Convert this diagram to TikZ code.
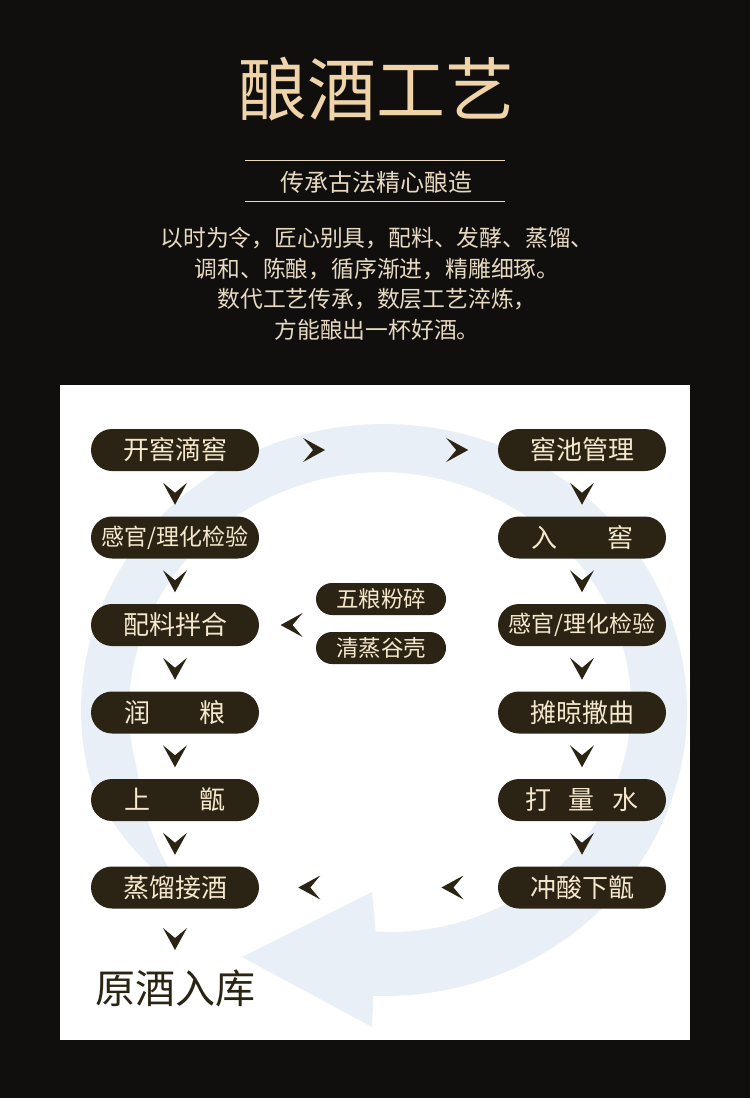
\documentclass[tikz,border=0pt]{standalone}
\usepackage{fontspec}
\setmainfont{Noto Sans CJK SC}
\usetikzlibrary{decorations.markings}
\definecolor{bgdark}{RGB}{16,15,14}
\definecolor{ringblue}{RGB}{233,239,246}
\definecolor{ink}{RGB}{43,36,20}
\definecolor{cream}{RGB}{246,232,205}
\definecolor{gold}{RGB}{238,212,168}
\definecolor{beige}{RGB}{232,218,194}

\begin{document}
\begin{tikzpicture}[x=1pt, y=-1pt,
        stepbox/.style={fill=ink, text=cream, rounded corners=21pt, minimum width=168pt, minimum height=42pt, inner sep=0pt, font=\fontsize{26}{26}\selectfont},
        grainbox/.style={fill=ink, text=cream, rounded corners=16pt, minimum width=130pt, minimum height=32pt, inner sep=0pt, font=\fontsize{22.5}{22.5}\selectfont},
        chev/.style={decoration={markings, mark=at position #1 with {\fill [ink] (-11, 12) -- (-1, 0) -- (-11, -12) -- (11, 0) -- cycle;}}, postaction={decorate}},
        declare function={tl(\s)=24*max(0, min(1, (165-\s)/30)); iw(\s)=48-tl(\s)+max(0, \s-270)*0.089;}]
        \pgfmathsetmacro{\xl}{175};
        \pgfmathsetmacro{\xr}{582};
        \pgfmathsetmacro{\dy}{87.5};
        \useasboundingbox (0, 0) rectangle (750, 1098);
        \fill [bgdark] (0, 0) rectangle (750, 1098);
        % header
        \node [text=gold, font=\fontsize{69}{69}\selectfont] (title) at (376, 89) {酿酒工艺};
        \draw [beige, line width=1pt] (245, 160) -- (505, 160);
        \draw [beige, line width=1pt] (245, 201) -- (505, 201);
        \node [text=beige, font=\fontsize{24}{24}\selectfont] (motto) at (376, 182) {传承古法精心酿造};
        \node [text=beige, align=center, font=\fontsize{22.8}{30.5}\selectfont] (intro) at (377, 284) {以时为令，匠心别具，配料、发酵、蒸馏、\\调和、陈酿，循序渐进，精雕细琢。\\数代工艺传承，数层工艺淬炼，\\方能酿出一杯好酒。};
        % panel and ring arrow
        \fill [white] (60, 385) rectangle (690, 1040);
        \fill [ringblue] plot [domain=135:452, samples=150] ({384+(303-tl(\x))*cos(\x)}, {710+(286-tl(\x))*sin(\x)})
            -- (372, 1027) -- (242, 957) -- (372, 892)
            -- plot [domain=452:135, samples=150] ({384+(303-iw(\x))*cos(\x)}, {710+(286-iw(\x))*sin(\x)}) -- cycle;
        % left column
        \node [stepbox] (kaijiao) at (\xl, 450) {开窖滴窖};
        \node [stepbox, font=\fontsize{23}{23}\selectfont] (jianyanl) at (\xl, 450+\dy) {感官/理化检验};
        \node [stepbox] (peiliao) at (\xl, 450+2*\dy) {配料拌合};
        \node [stepbox] (runliang) at (\xl, 450+3*\dy) {润\hspace{50pt}粮};
        \node [stepbox] (shangzeng) at (\xl, 450+4*\dy) {上\hspace{50pt}甑};
        \node [stepbox] (zhengliu) at (\xl, 450+5*\dy) {蒸馏接酒};
        \node [text=ink, inner sep=0pt, font=\fontsize{40}{40}\selectfont] (yuanjiu) at (\xl, 988) {原酒入库};
        % right column
        \node [stepbox] (guanli) at (\xr, 450) {窖池管理};
        \node [stepbox] (rujiao) at (\xr, 450+\dy) {入\hspace{50pt}窖};
        \node [stepbox, font=\fontsize{23}{23}\selectfont] (jianyanr) at (\xr, 450+2*\dy) {感官/理化检验};
        \node [stepbox] (tanliang) at (\xr, 450+3*\dy) {摊晾撒曲};
        \node [stepbox] (liangshui) at (\xr, 450+4*\dy) {打\hspace{18pt}量\hspace{18pt}水};
        \node [stepbox] (xiazeng) at (\xr, 450+5*\dy) {冲酸下甑};
        % grain
        \node [grainbox] (fensui) at (381, 599) {五粮粉碎};
        \node [grainbox] (gu) at (381, 648) {清蒸谷壳};
        \coordinate (grain) at (316, 625);
        % chevrons
        \path [chev=0.5] (kaijiao) -- (jianyanl);
        \path [chev=0.5] (jianyanl) -- (peiliao);
        \path [chev=0.5] (peiliao) -- (runliang);
        \path [chev=0.5] (runliang) -- (shangzeng);
        \path [chev=0.5] (shangzeng) -- (zhengliu);
        \path [chev=0.5] (zhengliu) -- (yuanjiu);
        \path [chev=0.5] (guanli) -- (rujiao);
        \path [chev=0.5] (rujiao) -- (jianyanr);
        \path [chev=0.5] (jianyanr) -- (tanliang);
        \path [chev=0.5] (tanliang) -- (liangshui);
        \path [chev=0.5] (liangshui) -- (xiazeng);
        \path [chev=0.23] (kaijiao) -- (guanli);
        \path [chev=0.83] (kaijiao) -- (guanli);
        \path [chev=0.19] (xiazeng) -- (zhengliu);
        \path [chev=0.79] (xiazeng) -- (zhengliu);
        \path [chev=0.43] (grain) -- (peiliao);
\end{tikzpicture}
\end{document}
